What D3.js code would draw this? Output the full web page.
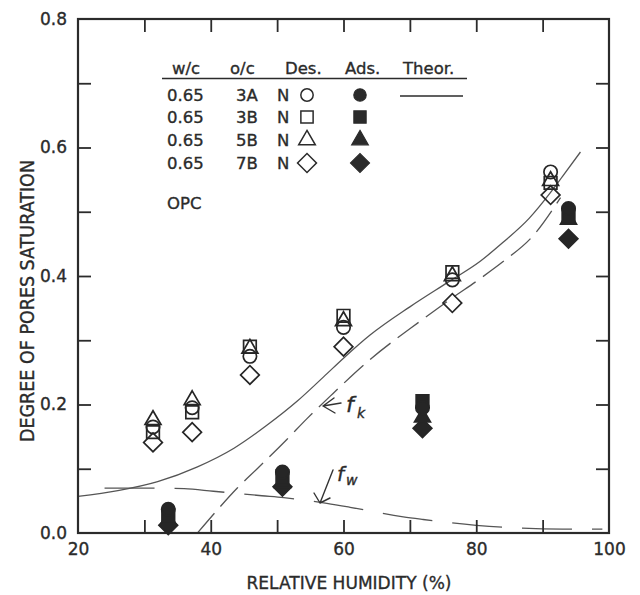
<!DOCTYPE html>
<html>
<head>
<meta charset="utf-8">
<script src="https://cdn.jsdelivr.net/npm/d3@7"></script>
<style>
  body { margin: 0; background: #fff; }
  svg { display: block; }
  text { font-family: "DejaVu Sans", sans-serif; fill: #2b2b2b; stroke: #2b2b2b; stroke-width: 0.35px; }
</style>
</head>
<body>
<div id="chart"></div>
<script>
"use strict";

// desorption (open symbols)
const rhDes = [31.3, 37.2, 45.9, 60.0, 76.4, 91.2];
const desCircle = [0.165, 0.195, 0.275, 0.32, 0.394, 0.562];
const desSquare = [0.157, 0.188, 0.29, 0.338, 0.406, 0.545];
const desTriangle = [0.176, 0.207, 0.287, 0.33, 0.4, 0.548];
const desDiamond = [0.141, 0.157, 0.246, 0.29, 0.358, 0.526];

// adsorption (filled symbols)
const rhAds = [33.6, 50.8, 71.9, 93.9];
const adsCircle = [0.037, 0.095, 0.195, 0.505];
const adsSquare = [0.028, 0.088, 0.205, 0.495];
const adsTriangle = [0.02, 0.078, 0.18, 0.488];
const adsDiamond = [0.012, 0.072, 0.163, 0.458];

// theoretical curves
const theorRH = [20, 26, 32, 38, 43.5, 48.5, 53, 57, 60, 64, 70, 76, 80.6, 84, 88, 91.2, 93, 95.7];
const theorSat = [0.057, 0.066, 0.08, 0.103, 0.132, 0.168, 0.205, 0.243, 0.272, 0.308, 0.352, 0.392, 0.423, 0.452, 0.49, 0.53, 0.555, 0.593];
const fkRH = [38, 41, 44, 47, 51.5, 54.5, 58, 64, 71.6, 76, 80.6, 84, 88.6, 92.7];
const fkSat = [0, 0.036, 0.07, 0.1, 0.146, 0.178, 0.213, 0.27, 0.33, 0.363, 0.396, 0.422, 0.463, 0.522];
const fwRH = [24, 30, 36, 40.4, 47.7, 51, 57.5, 61, 69, 72, 80, 84, 93, 99];
const fwSat = [0.07, 0.07, 0.069, 0.065, 0.058, 0.055, 0.046, 0.04, 0.025, 0.021, 0.012, 0.009, 0.006, 0.006];

// axes
const xMinorTicks = [30, 40, 50, 60, 70, 80, 90];
const xLabelTicks = [20, 40, 60, 80, 100];
const yMinorTicks = [0.1, 0.2, 0.3, 0.4, 0.5, 0.6, 0.7];
const yLabelTicks = [0, 0.2, 0.4, 0.6, 0.8];

// legend
const legendHeader = ["w/c", "o/c", "Des.", "Ads.", "Theor."];
const legendWC = ["0.65", "0.65", "0.65", "0.65"];
const legendOC = ["3A", "3B", "5B", "7B"];
const legendShapes = ["circle", "square", "triangle", "diamond"];

const W = 640, H = 595;
const x = d3.scaleLinear().domain([20, 100]).range([78, 609]);
const y = d3.scaleLinear().domain([0, 0.8]).range([533, 19]);

const svg = d3.select("#chart").append("svg").attr("width", W).attr("height", H);

const ink = "#2b2b2b";

// symbol helpers
const symSize = { circle: 140, square: 160, triangle: 110, diamond: 175 };
function symType(shape) {
  return { circle: d3.symbolCircle, square: d3.symbolSquare, triangle: d3.symbolTriangle, diamond: d3.symbolSquare }[shape];
}
function symRot(shape) { return shape === "diamond" ? 45 : 0; }

// curves
const line = d3.line().x(d => x(d[0])).y(d => y(d[1])).curve(d3.curveMonotoneX);
svg.append("path")
  .attr("d", line(d3.zip(theorRH, theorSat)))
  .attr("fill", "none").attr("stroke", "#555").attr("stroke-width", 1.3);
svg.append("path")
  .attr("d", line(d3.zip(fkRH, fkSat)))
  .attr("fill", "none").attr("stroke", "#555").attr("stroke-width", 1.3)
  .attr("stroke-dasharray", "26 9");
svg.append("path")
  .attr("d", line(d3.zip(fwRH, fwSat)))
  .attr("fill", "none").attr("stroke", "#555").attr("stroke-width", 1.3)
  .attr("stroke-dasharray", "50 20");

// frame
svg.append("rect")
  .attr("x", x(20)).attr("y", y(0.8))
  .attr("width", x(100) - x(20)).attr("height", y(0) - y(0.8))
  .attr("fill", "none").attr("stroke", ink).attr("stroke-width", 2.2);

// inner ticks on all four sides
const tk = 13;
function tickStyle(g) {
  g.select(".domain").remove();
  g.selectAll(".tick line").attr("stroke", ink).attr("stroke-width", 1.8);
}
svg.append("g").attr("transform", `translate(0,${y(0)})`)
  .call(d3.axisBottom(x).tickValues(xMinorTicks).tickSize(-tk).tickFormat(""))
  .call(tickStyle);
svg.append("g").attr("transform", `translate(0,${y(0.8)})`)
  .call(d3.axisTop(x).tickValues(xMinorTicks).tickSize(-tk).tickFormat(""))
  .call(tickStyle);
svg.append("g").attr("transform", `translate(${x(20)},0)`)
  .call(d3.axisLeft(y).tickValues(yMinorTicks).tickSize(-tk).tickFormat(""))
  .call(tickStyle);
svg.append("g").attr("transform", `translate(${x(100)},0)`)
  .call(d3.axisRight(y).tickValues(yMinorTicks).tickSize(-tk).tickFormat(""))
  .call(tickStyle);

// tick labels
const xLab = svg.append("g").attr("transform", `translate(0,${y(0)})`)
  .call(d3.axisBottom(x).tickValues(xLabelTicks).tickSize(0).tickPadding(10).tickFormat(d3.format("d")));
xLab.select(".domain").remove();
xLab.selectAll("text").attr("font-size", 17).attr("fill", ink).attr("font-family", "DejaVu Sans");

const yLab = svg.append("g").attr("transform", `translate(${x(20)},0)`)
  .call(d3.axisLeft(y).tickValues(yLabelTicks).tickSize(0).tickPadding(11).tickFormat(d3.format(".1f")));
yLab.select(".domain").remove();
yLab.selectAll("text").attr("font-size", 17).attr("fill", ink).attr("font-family", "DejaVu Sans");

// axis titles
svg.append("text")
  .attr("x", 349).attr("y", 589)
  .attr("text-anchor", "middle")
  .attr("font-family", "Liberation Sans, sans-serif")
  .attr("font-size", 18)
  .attr("textLength", 205).attr("lengthAdjust", "spacingAndGlyphs")
  .text("RELATIVE HUMIDITY (%)");
svg.append("text")
  .attr("transform", "translate(34,301) rotate(-90)")
  .attr("text-anchor", "middle")
  .attr("font-family", "Liberation Sans, sans-serif")
  .attr("font-size", 19)
  .attr("textLength", 282).attr("lengthAdjust", "spacingAndGlyphs")
  .text("DEGREE OF PORES SATURATION");

// data symbols
function drawSeries(rh, vals, shape, filled) {
  svg.append("g").selectAll("path")
    .data(d3.zip(rh, vals))
    .join("path")
    .attr("d", d3.symbol(symType(shape), symSize[shape])())
    .attr("transform", d => `translate(${x(d[0])},${y(d[1])}) rotate(${symRot(shape)})`)
    .attr("fill", filled ? "#262626" : "none")
    .attr("stroke", "#262626")
    .attr("stroke-width", 1.7);
}
drawSeries(rhDes, desDiamond, "diamond", false);
drawSeries(rhDes, desSquare, "square", false);
drawSeries(rhDes, desCircle, "circle", false);
drawSeries(rhDes, desTriangle, "triangle", false);
drawSeries(rhAds, adsDiamond, "diamond", true);
drawSeries(rhAds, adsTriangle, "triangle", true);
drawSeries(rhAds, adsSquare, "square", true);
drawSeries(rhAds, adsCircle, "circle", true);

// legend
const lg = svg.append("g").attr("font-size", 16.5);
const headX = [172, 230, 285, 345, 403];
lg.selectAll("text.head")
  .data(legendHeader)
  .join("text")
  .attr("class", "head")
  .attr("x", (d, i) => headX[i]).attr("y", 74)
  .text(d => d);
lg.append("line")
  .attr("x1", 162).attr("x2", 467).attr("y1", 78.5).attr("y2", 78.5)
  .attr("stroke", ink).attr("stroke-width", 1.6);

const legSize = { circle: 120, square: 150, triangle: 120, diamond: 180 };
const rowY = [95, 117, 140, 163];
lg.selectAll("text.wc")
  .data(legendWC).join("text").attr("class", "wc")
  .attr("x", 167).attr("y", (d, i) => rowY[i] + 6).text(d => d);
lg.selectAll("text.oc")
  .data(legendOC).join("text").attr("class", "oc")
  .attr("x", 247).attr("y", (d, i) => rowY[i] + 6).attr("text-anchor", "middle").text(d => d);
lg.selectAll("text.n")
  .data(legendOC).join("text").attr("class", "n")
  .attr("x", 277).attr("y", (d, i) => rowY[i] + 6).text("N");
lg.selectAll("path.des")
  .data(legendShapes).join("path").attr("class", "des")
  .attr("d", d => d3.symbol(symType(d), legSize[d])())
  .attr("transform", (d, i) => `translate(307,${rowY[i]}) rotate(${symRot(d)})`)
  .attr("fill", "none").attr("stroke", ink).attr("stroke-width", 1.5);
lg.selectAll("path.ads")
  .data(legendShapes).join("path").attr("class", "ads")
  .attr("d", d => d3.symbol(symType(d), legSize[d])())
  .attr("transform", (d, i) => `translate(360,${rowY[i]}) rotate(${symRot(d)})`)
  .attr("fill", ink).attr("stroke", ink).attr("stroke-width", 1.2);
lg.append("line")
  .attr("x1", 400).attr("x2", 463).attr("y1", 96).attr("y2", 96)
  .attr("stroke", ink).attr("stroke-width", 1.6);
lg.append("text").attr("x", 167).attr("y", 209).text("OPC");

// handwritten annotations
const hand = svg.append("g")
  .attr("fill", "none").attr("stroke", "#333").attr("stroke-width", 1.4)
  .attr("stroke-linecap", "round").attr("stroke-linejoin", "round");
hand.append("path").attr("d", "M334,398 L323,406 L335,413 M323,406 L341,403");
hand.append("path").attr("d", "M333,470 L320,503 M314,493 L320,503 L330,498");
const note = svg.append("g")
  .attr("font-family", "DejaVu Serif, serif").attr("font-style", "italic");
note.append("text").attr("x", 346).attr("y", 412).attr("font-size", 22).text("f");
note.append("text").attr("x", 357).attr("y", 418).attr("font-size", 14).text("k");
note.append("text").attr("x", 337).attr("y", 481).attr("font-size", 20).text("f");
note.append("text").attr("x", 346).attr("y", 485).attr("font-size", 14).text("w");
</script>
</body>
</html>
